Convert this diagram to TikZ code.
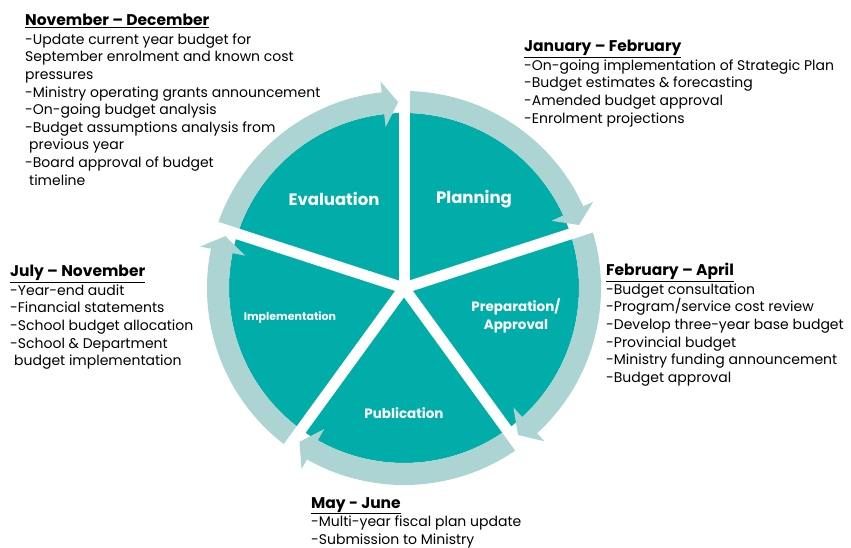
\documentclass[tikz,border=0pt]{standalone}
\usepackage{fontspec}
\setmainfont{Poppins}
\usepackage{tikz}
\usetikzlibrary{positioning}

\definecolor{wheel}{HTML}{00ADA9}
\definecolor{ringc}{HTML}{ACD4D2}

\newcommand{\months}[1]{{\fontsize{15.5}{18}\selectfont\textbf{\underline{#1}}}\\[1pt]}

\tikzset{
  phase/.style={text=white,font=\bfseries\fontsize{15}{18}\selectfont,align=center,inner sep=0},
  notes/.style={anchor=north west,align=left,inner sep=0,font=\fontsize{14}{17.6}\selectfont}
}

\begin{document}
\begin{tikzpicture}[x=1pt,y=1pt]
  \useasboundingbox (-404,-260) rectangle (447,288);
  % wheel sectors
  \foreach \a/\b in {90/162, 18/90, -54/18, -126/-54, -198/-126}{
    \fill[wheel] (0,0) -- (\a:175) arc[start angle=\a,end angle=\b,radius=175pt] -- cycle;
  }
  % arrows round the wheel, clockwise
  \foreach \a/\b in {162/90, 90/18, 18/-54, -54/-126, -126/-198}{
    \pgfmathsetmacro\h{\b+6.5}
    \pgfmathsetmacro\t{\b+1.8}
    \fill[ringc] (\a:197) arc[start angle=\a,end angle=\h,radius=197pt]
      -- (\h:208) -- (\t:186) -- (\h:162) -- (\h:175)
      arc[start angle=\h,end angle=\a,radius=175pt] -- cycle;
  }
  % gaps
  \foreach \g in {90,18,-54,-126,162}{
    \draw[white,line width=11pt] (0,0) -- (\g:215);
  }
  % phase names
  \node[phase,font=\bfseries\fontsize{16.5}{18}\selectfont] (evaluation) at (-70,89) {Evaluation};
  \node[phase,font=\bfseries\fontsize{16.5}{18}\selectfont] (planning) at (70,89) {Planning};
  \node[phase,font=\bfseries\fontsize{13.5}{17.5}\selectfont] (prep) at (112,-28) {Preparation/\\Approval};
  \node[phase,font=\bfseries\fontsize{13.5}{17}\selectfont] (publication) at (0,-125) {Publication};
  \node[phase,font=\bfseries\fontsize{11}{14}\selectfont] (implement) at (-114,-30) {Implementation};
  % month notes
  \node[notes] (novdec) at (-379,274) {\months{November – December}
    -Update current year budget for\\
    September enrolment and known cost\\
    pressures\\
    -Ministry operating grants announcement\\
    -On-going budget analysis\\
    -Budget assumptions analysis from\\
    \hspace*{4pt}previous year\\
    -Board approval of budget\\
    \hspace*{4pt}timeline};
  \node[notes] (janfeb) at (120,248) {\months{January – February}
    -On-going implementation of Strategic Plan\\
    -Budget estimates \& forecasting\\
    -Amended budget approval\\
    -Enrolment projections};
  \node[notes] (febapr) at (202,25) {\months{February – April}
    -Budget consultation\\
    -Program/service cost review\\
    -Develop three-year base budget\\
    -Provincial budget\\
    -Ministry funding announcement\\
    -Budget approval};
  \node[notes] (julnov) at (-394,23) {\months{July – November}
    -Year-end audit\\
    -Financial statements\\
    -School budget allocation\\
    -School \& Department\\
    \hspace*{4pt}budget implementation};
  \node[notes] (mayjun) at (-93,-209) {\months{May - June}
    -Multi-year fiscal plan update\\
    -Submission to Ministry};
\end{tikzpicture}
\end{document}
